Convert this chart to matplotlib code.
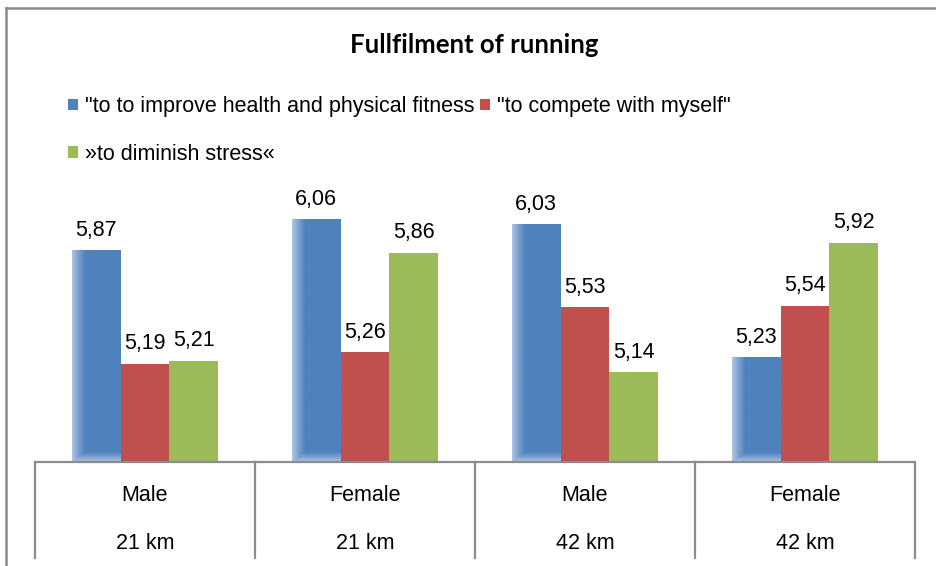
import numpy as np
import matplotlib.pyplot as plt
from matplotlib.lines import Line2D
from matplotlib.colors import to_rgb

plt.rcParams['font.family'] = ['Liberation Sans', 'DejaVu Sans']

# data
groups = ['Male', 'Female', 'Male', 'Female']
distances = ['21 km', '21 km', '42 km', '42 km']
series_names = ['"to to improve health and physical fitness',
                '"to compete with myself"',
                '\u00bbto diminish stress\u00ab']
health = [5.87, 6.06, 6.03, 5.23]
compete = [5.19, 5.26, 5.53, 5.54]
stress = [5.21, 5.86, 5.14, 5.92]
colors = ['#4F81BD', '#C0504D', '#9BBB59']

ymin, ymax = 4.6, 6.2

fig = plt.figure(figsize=(9.37, 5.66), dpi=100)
ax = fig.add_axes([35 / 937, 1 - 462 / 566, 880 / 937, 266 / 566])

x = np.arange(len(groups))
w = 0.2227
series = [health, compete, stress]
bars = []
for j, vals in enumerate(series):
    b = ax.bar(x + (j - 1) * w, np.array(vals) - ymin, width=w, bottom=ymin,
               color=colors[j], label=series_names[j], zorder=2)
    bars.append(b)
    for xi, v in zip(x + (j - 1) * w, vals):
        ax.annotate(f'{v:.2f}'.replace('.', ','), (xi, v), xytext=(0, 7),
                    textcoords='offset points', ha='center', va='bottom',
                    fontsize=15.5)

# light fade on the left and top edges of the blue bars
base = np.array(to_rgb(colors[0]))
light = np.array([0.68, 0.77, 0.89])
for xi, v in zip(x - w, health):
    nx, ny = 60, 200
    gx = np.clip(1 - np.linspace(0, 1, nx) / 0.28, 0, 1)
    gy = np.clip(1 - np.linspace(0, 1, ny) / (0.06 / (v - ymin)), 0, 1)
    gx = gx ** 1.2
    gy = gy ** 1.2
    mix = np.maximum(gx[None, :], gy[:, None])
    img = base[None, None, :] * (1 - mix[..., None]) + light[None, None, :] * mix[..., None]
    ax.imshow(img, extent=(xi - w / 2, xi + w / 2, v, ymin), origin='upper',
              aspect='auto', zorder=3, interpolation='bilinear')

ax.set_xlim(-0.5, len(groups) - 0.5)
ax.set_ylim(ymin, ymax)
for s in ax.spines.values():
    s.set_visible(False)
ax.set_xticks([])
ax.set_yticks([])

# category table below the axis
tr = ax.get_xaxis_transform()
grey = '#8C8C8C'
ax.plot([-0.5, len(groups) - 0.5], [0, 0], color=grey, lw=1.6, transform=tr,
        clip_on=False, zorder=4)
for b in np.arange(len(groups) + 1) - 0.5:
    ax.plot([b, b], [0, -0.36], color=grey, lw=1.6, transform=tr, clip_on=False)
for i in range(len(groups)):
    ax.text(i, -0.125, groups[i], transform=tr, ha='center', va='center', fontsize=15.5)
    ax.text(i, -0.305, distances[i], transform=tr, ha='center', va='center', fontsize=15.5)

# title and legend
fig.text(0.506, 0.921, 'Fullfilment of running', ha='center', va='center',
         fontsize=18.5, fontweight='bold', family=['Lato', 'DejaVu Sans'])
# legend fills column by column: blue + green in the first, red in the second
order = [0, 2, 1]
fig.legend(handles=[bars[k] for k in order], labels=[series_names[k] for k in order],
           ncol=2, loc='upper left', bbox_to_anchor=(68 / 937, 1 - 96 / 566),
           frameon=False, fontsize=15.5, handlelength=0.45, handleheight=0.45,
           handletextpad=0.35, columnspacing=0.25, labelspacing=1.25,
           borderpad=0, borderaxespad=0)

# outer chart border (left and top visible)
fig.add_artist(Line2D([6 / 937, 6 / 937], [0, 1 - 8 / 566], color='#8A8A8A', lw=1.8))
fig.add_artist(Line2D([6 / 937, 1], [1 - 8 / 566, 1 - 8 / 566], color='#8A8A8A', lw=1.8))

fig.savefig('out.png', dpi=100)
